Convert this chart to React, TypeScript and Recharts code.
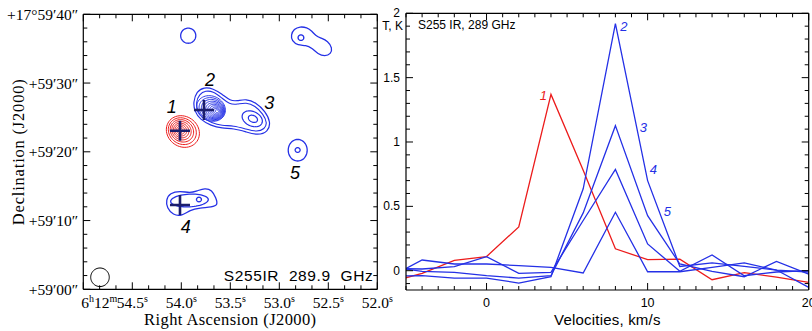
import {
  ComposedChart,
  LineChart,
  Line,
  Scatter,
  XAxis,
  YAxis,
  Label,
} from 'recharts';

const SERIF = '"Liberation Serif", "DejaVu Serif", serif';
const SANS = '"Liberation Sans", Arial, sans-serif';
const BLUE = '#2430e6';
const RED = '#ec1c1c';
const NAVY = '#1c1e6c';

// ---------- spectra at positions 1-5: T (K) every 2 km/s ----------
const velocities = [-6, -4, -2, 0, 2, 4, 6, 8, 10, 12, 14, 16, 18, 20];
const tPos1 = [-0.09, -0.02, 0.08, 0.11, 0.34, 1.37, 0.78, 0.17, 0.086, 0.09, -0.07, -0.015, -0.05, -0.09];
const tPos2 = [-0.04, -0.039, -0.057, -0.057, -0.096, -0.047, 0.636, 1.92, 0.7, 0.033, 0.06, 0.033, 0.005, -0.13];
const tPos3 = [0.03, -0.005, -0.013, -0.039, -0.057, -0.039, 0.449, 1.127, 0.428, 0.052, -0.005, -0.047, 0.072, -0.026];
const tPos4 = [0.017, 0.013, 0.031, 0.109, -0.021, -0.013, 0.39, 0.787, 0.208, -0.005, 0.122, -0.039, -0.01, 0];
const tPos5 = [-0.05, 0.083, 0.052, 0.052, 0.039, 0.026, -0.018, 0.454, -0.008, -0.008, 0.026, 0.06, 0.005, -0.01];

const velTicks = [0, 10, 20];
const tempTicks = [0, 0.5, 1, 1.5, 2];
const tempTickText = ['0', '0.5', '1', '1.5', '2'];

const specRows = velocities.map((v, i) => ({
  v,
  t1: tPos1[i],
  t2: tPos2[i],
  t3: tPos3[i],
  t4: tPos4[i],
  t5: tPos5[i],
}));

// name, values, colour, label offset from the peak (px)
const specSeries = [
  { key: 't1', name: '1', values: tPos1, color: RED, dx: -7.5, dy: 1.5 },
  { key: 't2', name: '2', values: tPos2, color: BLUE, dx: 8.5, dy: 3 },
  { key: 't3', name: '3', values: tPos3, color: BLUE, dx: 28, dy: 1.5 },
  { key: 't4', name: '4', values: tPos4, color: BLUE, dx: 38, dy: 0 },
  { key: 't5', name: '5', values: tPos5, color: BLUE, dx: 52, dy: -1 },
];

// ---------- 289.9 GHz map ----------
// offsets in arcsec: x westward from 6h12m55.0s, y north of +17°59'00"
const ARCSEC_PER_SEC = 14.27; // 15 * cos(dec)
const raLabels = [54.5, 54.0, 53.5, 53.0, 52.5, 52.0];
const decLabels = [0, 10, 20, 30, 40];
const decText = ['+59′00″', '+59′10″', '+59′20″', '+59′30″', '+17°59′40″'];

type Ring = [number, number, number, number, number]; // x, y, semi-axis a, semi-axis b, angle deg

const ringsPos1: Ring[] = [
  [14.5, 22.95, 2.5, 2.2, -35],
  [14.42, 23.0, 2.12, 1.86, -35],
  [14.36, 23.05, 1.77, 1.56, -35],
  [14.3, 23.08, 1.46, 1.29, -35],
  [14.25, 23.1, 1.16, 1.03, -35],
  [14.2, 23.12, 0.88, 0.79, -35],
  [14.18, 23.14, 0.62, 0.55, -35],
  [14.15, 23.15, 0.37, 0.33, -35],
];

const ringsPos2: Ring[] = [
  [18.6, 26.3, 2.15, 1.8, -25],
  [18.72, 26.22, 1.92, 1.6, -25],
  [18.84, 26.15, 1.7, 1.41, -25],
  [18.96, 26.08, 1.49, 1.23, -25],
  [19.07, 26.02, 1.29, 1.06, -25],
  [19.17, 25.98, 1.09, 0.89, -25],
  [19.26, 25.95, 0.89, 0.72, -25],
  [19.34, 25.92, 0.69, 0.55, -25],
  [19.41, 25.9, 0.49, 0.38, -25],
  [19.46, 25.9, 0.27, 0.2, -25],
];

const ringsPos3: Ring[] = [
  [24.6, 24.8, 1.55, 1.05, -25],
  [24.7, 24.8, 0.7, 0.48, -25],
];

const ringsPos4: Ring[] = [
  [15.46, 12.92, 2.74, 0.92, 3],
  [16.84, 13.06, 0.36, 0.33, 0],
];

const ringsPos5: Ring[] = [
  [31.22, 20.23, 1.38, 1.57, 0],
  [31.21, 20.26, 0.36, 0.34, 0],
];

const ringsNorth: Ring[] = [
  [15.28, 36.89, 1.1, 1.1, 0],
  [31.69, 36.6, 0.42, 0.4, 0],
];

const beam: Ring = [2.43, 1.75, 1.35, 1.35, 0];

// outer contours that join 2 and 3
const bridgeOuter = [
  [16.0, 27.2], [16.5, 28.8], [17.6, 29.4], [18.9, 29.2], [20.2, 28.4], [21.4, 27.4],
  [22.4, 27.4], [23.7, 27.7], [25.1, 27.2], [26.5, 25.9], [27.3, 24.3], [26.9, 22.9],
  [25.4, 22.4], [23.7, 22.9], [21.9, 23.4], [20.2, 23.4], [18.6, 23.8], [17.0, 24.7],
  [16.2, 25.9],
];
const bridgeInner = [
  [16.4, 27.2], [16.9, 28.4], [17.8, 28.9], [18.9, 28.8], [20.1, 27.9], [21.3, 26.9],
  [22.4, 26.9], [23.7, 27.2], [25.0, 26.7], [26.2, 25.5], [26.8, 24.2], [26.4, 23.3],
  [25.3, 22.9], [23.7, 23.3], [21.9, 23.8], [20.2, 23.8], [18.7, 24.2], [17.2, 25.0],
  [16.6, 26.0],
];
const outerPos4 = [
  [12.04, 12.99], [12.62, 14.01], [14.08, 14.3], [15.53, 14.01], [16.55, 14.3],
  [17.72, 14.74], [18.73, 14.44], [19.32, 13.28], [19.61, 12.26], [18.73, 11.97],
  [16.99, 11.83], [15.53, 11.53], [14.37, 10.66], [13.06, 10.8], [12.18, 11.83],
];
const outerNorthEast = [
  [30.23, 36.99], [30.67, 37.86], [31.55, 38.23], [32.57, 38.08], [33.29, 37.57],
  [33.87, 36.84], [34.6, 36.55], [35.62, 36.12], [36.27, 35.1], [36.05, 34.22],
  [35.18, 33.86], [34.16, 34.22], [33.29, 35.1], [32.41, 35.53], [31.25, 35.46],
  [30.37, 36.12],
];

const crosses = [
  { x: 14.08, y: 23.07 },
  { x: 17.57, y: 26.08 },
  { x: 14.08, y: 12.26 },
];

const sourceNames = [
  { x: 12.87, y: 26.52, name: '1' },
  { x: 18.44, y: 30.44, name: '2' },
  { x: 27.07, y: 27.14, name: '3' },
  { x: 14.91, y: 9.11, name: '4' },
  { x: 30.81, y: 16.87, name: '5' },
];

function ellipsePoints([cx, cy, a, b, deg]: Ring) {
  const r = (deg * Math.PI) / 180;
  const n = 56;
  return Array.from({ length: n }, (_, i) => {
    const t = (i / n) * 2 * Math.PI;
    const u = a * Math.cos(t);
    const w = b * Math.sin(t);
    return { x: cx + u * Math.cos(r) - w * Math.sin(r), y: cy + u * Math.sin(r) + w * Math.cos(r) };
  });
}

const toPoints = (pts: number[][]) => pts.map(([x, y]) => ({ x, y }));

const raPos = (s: number) => (55 - s) * ARCSEC_PER_SEC;
const RA_SPAN = 3 * ARCSEC_PER_SEC;
const raTicks = Array.from({ length: 19 }, (_, i) => (i * ARCSEC_PER_SEC) / 6);
const decTicks = Array.from({ length: 21 }, (_, i) => i * 2);

function mapTick(side: 'bottom' | 'top' | 'left' | 'right') {
  return (p: any) => {
    const { x, y, payload } = p;
    const v: number = payload.value;
    if (side === 'bottom' || side === 'top') {
      const ra = raLabels.find((s) => Math.abs(raPos(s) - v) < 1e-6);
      const major = ra !== undefined || v < 1e-6;
      const len = major ? 7 : 4;
      return (
        <g>
          <line x1={x} x2={x} y1={y} y2={side === 'bottom' ? y - len : y + len} stroke="#000" strokeWidth={1} />
          {side === 'bottom' && ra !== undefined && (
            <text x={x} y={y + 19} textAnchor="middle" fontFamily={SERIF} fontSize={15.5} fill="#000">
              {ra.toFixed(1)}
              <tspan dy={-6} fontSize={10}>s</tspan>
            </text>
          )}
          {side === 'bottom' && ra === raLabels[0] && (
            <text x={x - 15} y={y + 19} textAnchor="end" fontFamily={SERIF} fontSize={15.5} fill="#000">
              6<tspan dy={-6} fontSize={10}>h</tspan>
              <tspan dy={6}>12</tspan>
              <tspan dy={-6} fontSize={10}>m</tspan>
            </text>
          )}
        </g>
      );
    }
    const k = decLabels.indexOf(v);
    const len = k >= 0 ? 7 : 4;
    return (
      <g>
        <line x1={x} x2={side === 'left' ? x + len : x - len} y1={y} y2={y} stroke="#000" strokeWidth={1} />
        {side === 'left' && k >= 0 && (
          <text x={x - 5} y={y} textAnchor="end" dominantBaseline="central" fontFamily={SERIF} fontSize={15.5} fill="#000">
            {decText[k]}
          </text>
        )}
      </g>
    );
  };
}

const specXTicks = Array.from({ length: 26 }, (_, i) => i - 5);
const specYTicks = Array.from({ length: 22 }, (_, i) => (i - 1) / 10);

function specTick(side: 'bottom' | 'top' | 'left' | 'right') {
  return (p: any) => {
    const { x, y, payload } = p;
    const v: number = payload.value;
    if (side === 'bottom' || side === 'top') {
      const k = velTicks.indexOf(v);
      const len = k >= 0 ? 7 : 4;
      return (
        <g>
          <line x1={x} x2={x} y1={y} y2={side === 'bottom' ? y - len : y + len} stroke="#000" />
          {side === 'bottom' && k >= 0 && (
            <text x={x} y={y + 17} textAnchor="middle" fontFamily={SANS} fontSize={12.5} fill="#000">
              {velTicks[k]}
            </text>
          )}
        </g>
      );
    }
    const k = tempTicks.findIndex((t) => Math.abs(t - v) < 1e-6);
    const len = k >= 0 ? 7 : 4;
    return (
      <g>
        <line x1={x} x2={side === 'left' ? x + len : x - len} y1={y} y2={y} stroke="#000" />
        {side === 'left' && k >= 0 && (
          <text x={x - 6} y={y} textAnchor="end" dominantBaseline="central" fontFamily={SANS} fontSize={12} fill="#000">
            {tempTickText[k]}
          </text>
        )}
      </g>
    );
  };
}

const peakLabel = (s: (typeof specSeries)[number]) => (p: any) => {
  const peak = s.values.indexOf(Math.max(...s.values));
  if (p.index !== peak) return null;
  const x = p.viewBox?.x ?? p.x;
  const y = p.viewBox?.y ?? p.y;
  return (
    <text
      x={x + s.dx}
      y={y + s.dy}
      fill={s.color}
      fontFamily={SANS}
      fontStyle="italic"
      fontSize={13}
      textAnchor="middle"
      dominantBaseline="central"
    >
      {s.name}
    </text>
  );
};

function contour(points: { x: number; y: number }[], color: string, key: string, smooth = false, width = 1.3) {
  return (
    <Line
      key={key}
      data={points}
      dataKey="y"
      type={smooth ? 'basisClosed' : 'linearClosed'}
      stroke={color}
      strokeWidth={width}
      dot={false}
      activeDot={false}
      isAnimationActive={false}
    />
  );
}

// axes are 1px thick boxes so that Recharts still draws them
function MapPanel() {
  const axisLine = { stroke: '#000', strokeWidth: 1.2 };
  return (
    <ComposedChart width={400} height={331} margin={{ top: 13.3, right: 21.7, bottom: 40.7, left: 82.3 }}>
      <XAxis
        type="number"
        dataKey="x"
        domain={[0, RA_SPAN]}
        allowDataOverflow
        ticks={raTicks}
        interval={0}
        height={1}
        tickSize={0}
        tickMargin={0}
        tickLine={false}
        axisLine={axisLine}
        tick={mapTick('bottom')}
      >
        <Label
          content={({ viewBox }: any) => (
            <g>
              <text
                x={viewBox.x + viewBox.width / 2}
                y={viewBox.y + 36}
                textAnchor="middle"
                fontFamily={SERIF}
                fontSize={16.5}
                letterSpacing={0.4}
                fill="#000"
              >
                Right Ascension (J2000)
              </text>
              <text
                x={viewBox.x + viewBox.width - 4}
                y={viewBox.y - 8}
                textAnchor="end"
                fontFamily={SANS}
                fontSize={15.5}
                letterSpacing={0.6}
                fill="#000"
                style={{ whiteSpace: 'pre' }}
              >
                {'S255IR  289.9  GHz'}
              </text>
            </g>
          )}
        />
      </XAxis>
      <XAxis
        xAxisId="top"
        orientation="top"
        type="number"
        dataKey="x"
        domain={[0, RA_SPAN]}
        allowDataOverflow
        ticks={raTicks}
        interval={0}
        height={1}
        tickSize={0}
        tickMargin={0}
        tickLine={false}
        axisLine={axisLine}
        tick={mapTick('top')}
      />
      <YAxis
        type="number"
        dataKey="y"
        domain={[0, 40]}
        allowDataOverflow
        ticks={decTicks}
        interval={0}
        width={1}
        tickSize={0}
        tickMargin={0}
        tickLine={false}
        axisLine={axisLine}
        tick={mapTick('left')}
      >
        <Label
          content={({ viewBox }: any) => (
            <text
              transform={`translate(${viewBox.x - 64}, ${viewBox.y + viewBox.height / 2}) rotate(-90)`}
              textAnchor="middle"
              dominantBaseline="central"
              fontFamily={SERIF}
              fontSize={16.5}
              letterSpacing={0.8}
              fill="#000"
            >
              Declination (J2000)
            </text>
          )}
        />
      </YAxis>
      <YAxis
        yAxisId="right"
        orientation="right"
        type="number"
        dataKey="y"
        domain={[0, 40]}
        allowDataOverflow
        ticks={decTicks}
        interval={0}
        width={1}
        tickSize={0}
        tickMargin={0}
        tickLine={false}
        axisLine={axisLine}
        tick={mapTick('right')}
      />

      {ringsPos1.map((r, i) => contour(ellipsePoints(r), RED, `p1-${i}`, false, 1))}
      {contour(toPoints(bridgeOuter), BLUE, 'bo', true, 1.2)}
      {contour(toPoints(bridgeInner), BLUE, 'bi', true, 1.1)}
      {ringsPos2.map((r, i) => contour(ellipsePoints(r), BLUE, `p2-${i}`, false, 0.95))}
      {ringsPos3.map((r, i) => contour(ellipsePoints(r), BLUE, `p3-${i}`, false, 1.2))}
      {contour(toPoints(outerPos4), BLUE, 'p4o', true)}
      {ringsPos4.map((r, i) => contour(ellipsePoints(r), BLUE, `p4-${i}`))}
      {ringsPos5.map((r, i) => contour(ellipsePoints(r), BLUE, `p5-${i}`))}
      {contour(toPoints(outerNorthEast), BLUE, 'ne', true)}
      {ringsNorth.map((r, i) => contour(ellipsePoints(r), BLUE, `n-${i}`))}
      {contour(ellipsePoints(beam), '#000', 'beam', false, 1)}

      <Scatter
        data={crosses}
        isAnimationActive={false}
        shape={(p: any) => (
          <g stroke={NAVY} strokeWidth={2.6}>
            <line x1={p.cx - 10} x2={p.cx + 10} y1={p.cy} y2={p.cy} />
            <line x1={p.cx} x2={p.cx} y1={p.cy - 10} y2={p.cy + 10} />
          </g>
        )}
      />
      <Scatter
        data={sourceNames}
        isAnimationActive={false}
        shape={(p: any) => (
          <text
            x={p.cx}
            y={p.cy}
            textAnchor="middle"
            dominantBaseline="central"
            fontFamily={SANS}
            fontStyle="italic"
            fontSize={18}
            fill="#000"
          >
            {p.payload.name}
          </text>
        )}
      />
    </ComposedChart>
  );
}

function SpectrumPanel() {
  const axisLine = { stroke: '#000', strokeWidth: 1.2 };
  return (
    <LineChart width={442} height={331} data={specRows} margin={{ top: 12.3, right: 2.3, bottom: 40, left: 35 }}>
      <XAxis
        type="number"
        dataKey="v"
        domain={[-5, 20]}
        allowDataOverflow
        ticks={specXTicks}
        interval={0}
        height={1}
        tickSize={0}
        tickMargin={0}
        tickLine={false}
        axisLine={axisLine}
        tick={specTick('bottom')}
      >
        <Label
          content={({ viewBox }: any) => (
            <text
              x={viewBox.x + viewBox.width / 2}
              y={viewBox.y + 35}
              textAnchor="middle"
              fontFamily={SANS}
              fontSize={15}
              letterSpacing={0.2}
              fill="#000"
            >
              Velocities, km/s
            </text>
          )}
        />
      </XAxis>
      <XAxis
        xAxisId="top"
        orientation="top"
        type="number"
        dataKey="v"
        domain={[-5, 20]}
        allowDataOverflow
        ticks={specXTicks}
        interval={0}
        height={1}
        tickSize={0}
        tickMargin={0}
        tickLine={false}
        axisLine={axisLine}
        tick={specTick('top')}
      >
        <Label
          content={({ viewBox }: any) => (
            <g fontFamily={SANS} fontSize={12} fill="#000">
              <text x={viewBox.x + 12} y={viewBox.y + 13} dominantBaseline="central">
                S255 IR, 289 GHz
              </text>
              <text x={viewBox.x - 3} y={viewBox.y + 14} textAnchor="end" dominantBaseline="central">
                T, K
              </text>
            </g>
          )}
        />
      </XAxis>
      <YAxis
        type="number"
        domain={[-0.15, 2]}
        allowDataOverflow
        ticks={specYTicks}
        interval={0}
        width={1}
        tickSize={0}
        tickMargin={0}
        tickLine={false}
        axisLine={axisLine}
        tick={specTick('left')}
      />
      <YAxis
        yAxisId="right"
        orientation="right"
        type="number"
        domain={[-0.15, 2]}
        allowDataOverflow
        ticks={specYTicks}
        interval={0}
        width={1}
        tickSize={0}
        tickMargin={0}
        tickLine={false}
        axisLine={axisLine}
        tick={specTick('right')}
      />
      {specSeries.map((s) => (
        <Line
          key={s.key}
          dataKey={s.key}
          type="linear"
          stroke={s.color}
          strokeWidth={1.3}
          dot={false}
          activeDot={false}
          isAnimationActive={false}
          label={peakLabel(s)}
        />
      ))}
    </LineChart>
  );
}

export default function App() {
  return (
    <div style={{ position: 'absolute', left: 0, top: 0, width: 812, height: 331, background: '#fff' }}>
      <div style={{ position: 'absolute', left: 0, top: 0 }}>
        <MapPanel />
      </div>
      <div style={{ position: 'absolute', left: 370, top: 0 }}>
        <SpectrumPanel />
      </div>
    </div>
  );
}
